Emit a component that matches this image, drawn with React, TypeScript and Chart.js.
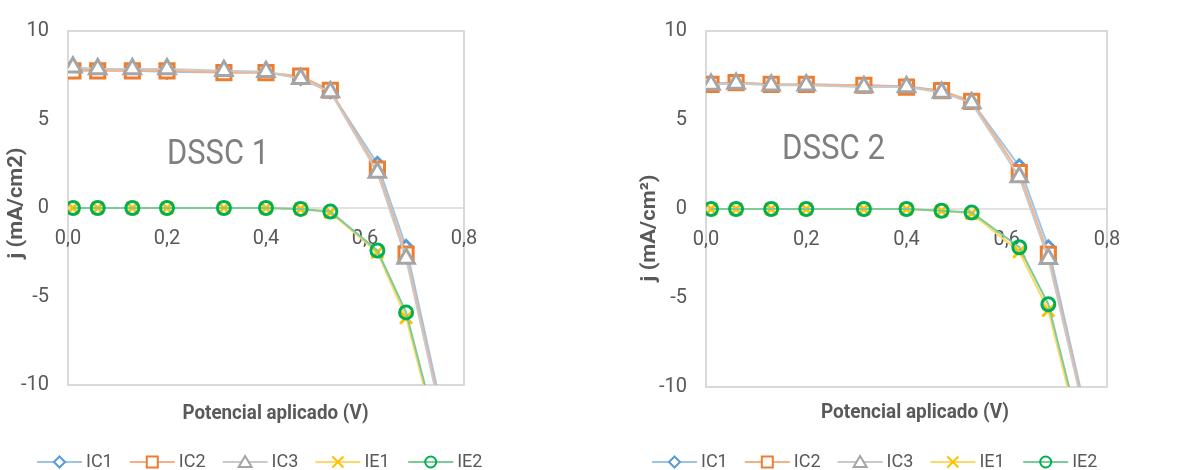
import React, { useEffect, useRef } from 'react';
import { Chart, registerables } from 'chart.js';

Chart.register(...registerables);
Chart.defaults.font.family = 'Roboto';

// Applied potential (V) for every measured point
const voltage = [0.01, 0.06, 0.13, 0.2, 0.315, 0.4, 0.47, 0.53, 0.625, 0.683, 0.76];

// Current density j (mA/cm2) – DSSC 1
const dssc1IC1 = [7.85, 7.8, 7.75, 7.7, 7.65, 7.65, 7.35, 6.6, 2.5, -2.2, -12.0];
const dssc1IC2 = [7.75, 7.75, 7.75, 7.75, 7.65, 7.65, 7.45, 6.65, 2.2, -2.6, -12.3];
const dssc1IC3 = [7.95, 7.85, 7.85, 7.85, 7.75, 7.7, 7.3, 6.55, 2.0, -2.85, -12.5];
const dssc1IE1 = [0, 0, 0, 0, 0, 0, -0.05, -0.25, -2.5, -6.2, -14.5];
const dssc1IE2 = [0, 0, 0, 0, 0, 0, -0.05, -0.2, -2.4, -5.9, -14.2];

// Current density j (mA/cm2) – DSSC 2
const dssc2IC1 = [7.05, 7.1, 7.0, 7.0, 6.95, 6.9, 6.65, 6.05, 2.4, -2.15, -11.7];
const dssc2IC2 = [7.0, 7.1, 7.0, 7.0, 6.95, 6.85, 6.65, 6.05, 2.05, -2.55, -11.9];
const dssc2IC3 = [7.0, 7.05, 6.95, 6.95, 6.85, 6.85, 6.55, 5.95, 1.8, -2.8, -12.1];
const dssc2IE1 = [0, 0, 0, 0, 0, 0, -0.1, -0.25, -2.4, -5.7, -14.4];
const dssc2IE2 = [0, 0, 0, 0, 0, 0, -0.1, -0.2, -2.15, -5.35, -14.0];

const seriesNames = ['IC1', 'IC2', 'IC3', 'IE1', 'IE2'];
const xTicks = [0, 0.2, 0.4, 0.6, 0.8];
const yTicks = [-10, -5, 0, 5, 10];

// Series styling
const lineColors = ['#9DC3E6', '#F4B183', '#C9C9C9', '#FFD966', '#7DCB98'];
const markerColors = ['#5B9BD5', '#ED7D31', '#A5A5A5', '#FFC000', '#00B050'];
const markerShapes = ['rectRot', 'rect', 'triangle', 'crossRot', 'circle'];
const markerRadius = [6.5, 10, 9.5, 8.5, 6.5];
const markerFill = ['#FFFFFF', '#FFFFFF', '#FFFFFF', 'rgba(0,0,0,0)', 'rgba(0,0,0,0)'];

const TEXT = '#595959';
const FRAME = '#D9D9D9';

type Layout = {
  left: number;
  plotLeft: number;
  padRight: number;
  padTop: number;
  padBottom: number;
  label: { x: number; base: number; w: number };
  xTitle: { cx: number; base: number; w: number };
  yTitle: { base: number; cy: number; w: number };
  legend: { x: number; y: number; pitch: number };
};

type Panel = {
  name: string;
  yTitle: string;
  series: number[][];
  layout: Layout;
};

const panels: Panel[] = [
  {
    name: 'DSSC 1',
    yTitle: 'j (mA/cm2)',
    series: [dssc1IC1, dssc1IC2, dssc1IC3, dssc1IE1, dssc1IE2],
    layout: {
      left: 0,
      plotLeft: 68,
      padRight: 133,
      padTop: 27,
      padBottom: 85,
      label: { x: 167, base: 164, w: 102 },
      xTitle: { cx: 275.5, base: 419, w: 186 },
      yTitle: { base: 22, cy: 203, w: 111 },
      legend: { x: 37, y: 462, pitch: 92.8 },
    },
  },
  {
    name: 'DSSC 2',
    yTitle: 'j (mA/cm\u00B2)',
    series: [dssc2IC1, dssc2IC2, dssc2IC3, dssc2IE1, dssc2IE2],
    layout: {
      left: 597,
      plotLeft: 109,
      padRight: 87,
      padTop: 19,
      padBottom: 83,
      label: { x: 185, base: 159, w: 103 },
      xTitle: { cx: 318, base: 418, w: 188 },
      yTitle: { base: 58, cy: 228, w: 107 },
      legend: { x: 55, y: 462, pitch: 92.8 },
    },
  },
];

const W = 597;
const H = 470;

// Draws text squeezed horizontally to a given width
function fittedText(
  ctx: CanvasRenderingContext2D,
  text: string,
  font: string,
  x: number,
  y: number,
  width: number,
  align: 'left' | 'center'
) {
  ctx.font = font;
  const m = ctx.measureText(text).width;
  const k = width / m;
  ctx.save();
  ctx.translate(x, y);
  ctx.scale(k, 1);
  ctx.textAlign = align;
  ctx.textBaseline = 'alphabetic';
  ctx.fillText(text, 0, 0);
  ctx.restore();
}

function legendMarker(ctx: CanvasRenderingContext2D, i: number, x: number, y: number) {
  ctx.save();
  ctx.strokeStyle = markerColors[i];
  ctx.fillStyle = markerFill[i];
  ctx.lineWidth = 2;
  ctx.beginPath();
  const s = 5.5;
  switch (markerShapes[i]) {
    case 'rectRot':
      ctx.moveTo(x, y - s);
      ctx.lineTo(x + s, y);
      ctx.lineTo(x, y + s);
      ctx.lineTo(x - s, y);
      ctx.closePath();
      break;
    case 'rect':
      ctx.rect(x - s, y - s, 2 * s, 2 * s);
      break;
    case 'triangle':
      ctx.moveTo(x, y - 6);
      ctx.lineTo(x + 6.5, y + 5);
      ctx.lineTo(x - 6.5, y + 5);
      ctx.closePath();
      break;
    case 'crossRot':
      ctx.moveTo(x - s, y - s);
      ctx.lineTo(x + s, y + s);
      ctx.moveTo(x + s, y - s);
      ctx.lineTo(x - s, y + s);
      break;
    default:
      ctx.arc(x, y, s, 0, Math.PI * 2);
  }
  if (markerShapes[i] !== 'crossRot') ctx.fill();
  ctx.stroke();
  ctx.restore();
}

function makeDecor(panel: Panel) {
  const L = panel.layout;
  return {
    id: 'panelDecor',
    // Plot frame and zero line sit underneath the tick labels and the series
    beforeDraw(chart: any) {
      const { ctx, chartArea: a, scales } = chart;
      ctx.save();
      const y0 = scales.y.getPixelForValue(0);
      ctx.strokeStyle = FRAME;
      ctx.lineWidth = 1.5;
      ctx.beginPath();
      ctx.moveTo(a.left, y0);
      ctx.lineTo(a.right, y0);
      ctx.stroke();
      ctx.lineWidth = 2;
      ctx.strokeRect(a.left, a.top, a.right - a.left, a.bottom - a.top);
      ctx.restore();
    },
    afterDraw(chart: any) {
      const ctx: CanvasRenderingContext2D = chart.ctx;
      ctx.save();
      // Panel label
      ctx.fillStyle = '#7F7F7F';
      fittedText(ctx, panel.name, '35px Roboto', L.label.x, L.label.base, L.label.w, 'left');

      // Axis titles
      ctx.fillStyle = TEXT;
      fittedText(ctx, 'Potencial aplicado (V)', 'bold 21px Roboto', L.xTitle.cx, L.xTitle.base, L.xTitle.w, 'center');
      ctx.save();
      ctx.translate(L.yTitle.base, L.yTitle.cy);
      ctx.rotate(-Math.PI / 2);
      fittedText(ctx, panel.yTitle, 'bold 21px Roboto', 0, 0, L.yTitle.w, 'center');
      ctx.restore();

      // Legend
      const datasets = chart.data.datasets;
      datasets.forEach((ds: any, i: number) => {
        const x0 = L.legend.x + i * L.legend.pitch;
        const y = L.legend.y;
        ctx.strokeStyle = ds.borderColor;
        ctx.lineWidth = 2;
        ctx.beginPath();
        ctx.moveTo(x0, y);
        ctx.lineTo(x0 + 45, y);
        ctx.stroke();
        legendMarker(ctx, i, x0 + 22.5, y);
        ctx.fillStyle = TEXT;
        ctx.font = '18px Roboto';
        ctx.textAlign = 'left';
        ctx.textBaseline = 'middle';
        ctx.fillText(ds.label, x0 + 49, y);
      });
      ctx.restore();
    },
  };
}

function PanelChart({ panel }: { panel: Panel }) {
  const ref = useRef<HTMLCanvasElement>(null);
  useEffect(() => {
    const L = panel.layout;
    const datasets = panel.series.map((vals, i) => ({
      label: seriesNames[i],
      data: voltage.map((v, k) => ({ x: v, y: vals[k] })),
      borderColor: lineColors[i],
      borderWidth: 2,
      pointStyle: markerShapes[i],
      pointRadius: markerRadius[i],
      pointHoverRadius: markerRadius[i],
      pointBorderColor: markerColors[i],
      pointBackgroundColor: markerFill[i],
      pointBorderWidth: 3,
      tension: 0,
      fill: false,
      order: seriesNames.length - i,
    }));
    const chart = new Chart(ref.current as HTMLCanvasElement, {
      type: 'line',
      data: { datasets },
      options: {
        responsive: false,
        animation: false,
        events: [],
        layout: { padding: { left: 0, right: L.padRight, top: L.padTop, bottom: L.padBottom } },
        plugins: { legend: { display: false }, tooltip: { enabled: false } },
        scales: {
          x: {
            type: 'linear',
            min: xTicks[0],
            max: xTicks[xTicks.length - 1],
            position: { y: 0 },
            grid: { display: false, drawTicks: false },
            border: { display: false },
            afterBuildTicks: (s: any) => {
              s.ticks = xTicks.map((v) => ({ value: v }));
            },
            ticks: {
              padding: 19,
              color: TEXT,
              font: { size: 20 },
              maxRotation: 0,
              autoSkip: false,
              callback: (v: any) => Number(v).toFixed(1).replace('.', ','),
            },
          },
          y: {
            type: 'linear',
            min: yTicks[0],
            max: yTicks[yTicks.length - 1],
            grid: { display: false, drawTicks: false },
            border: { display: false },
            afterBuildTicks: (s: any) => {
              s.ticks = yTicks.map((v) => ({ value: v }));
            },
            afterFit: (s: any) => {
              s.width = L.plotLeft;
            },
            ticks: {
              padding: 19,
              color: TEXT,
              font: { size: 20 },
              callback: (v: any) => String(v),
            },
          },
        },
      },
      plugins: [makeDecor(panel)],
    } as any);
    return () => chart.destroy();
  }, [panel]);
  return (
    <div style={{ position: 'absolute', left: panel.layout.left, top: 0, width: W, height: H }}>
      <canvas ref={ref} width={W} height={H} style={{ display: 'block', width: W, height: H }} />
    </div>
  );
}

export default function App() {
  return (
    <div style={{ position: 'absolute', left: 0, top: 0, width: 1194, height: 470, background: '#FFFFFF' }}>
      {panels.map((p) => (
        <PanelChart key={p.name} panel={p} />
      ))}
    </div>
  );
}
